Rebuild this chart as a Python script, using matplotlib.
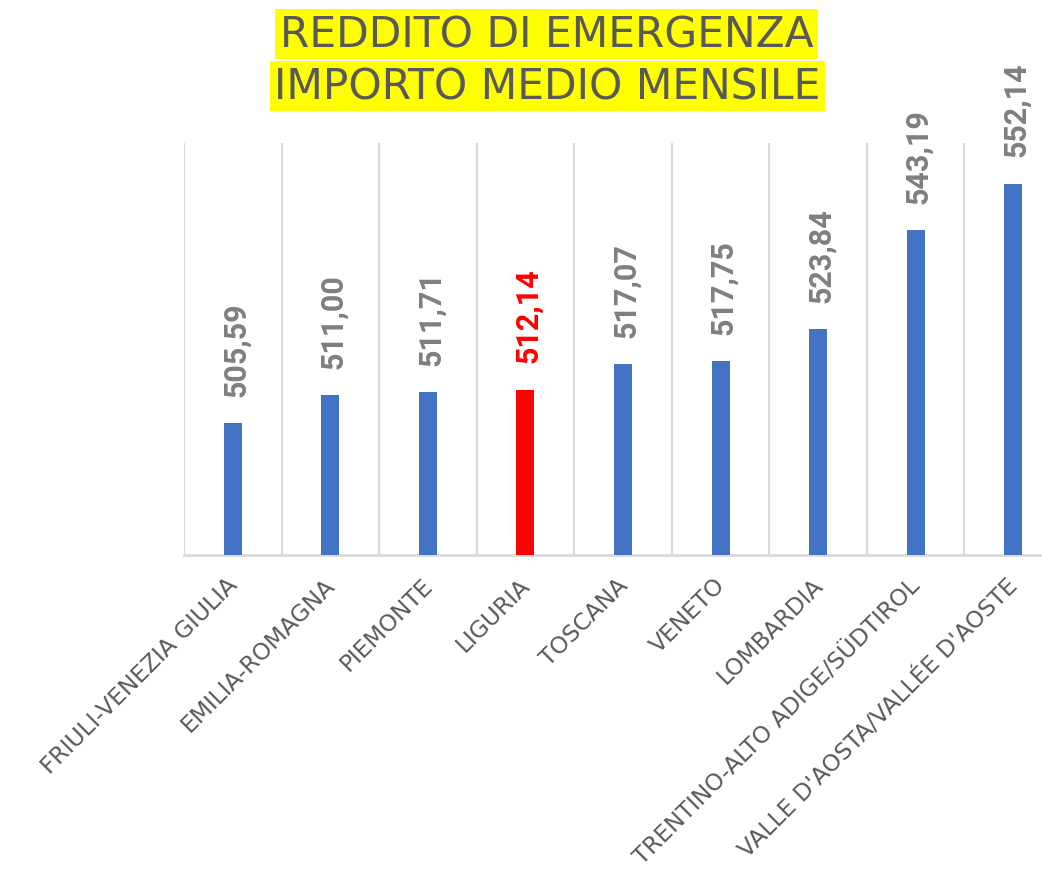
import matplotlib
matplotlib.use("Agg")
import matplotlib.pyplot as plt
import matplotlib.transforms as mtrans
import numpy as np

regioni = ["FRIULI-VENEZIA GIULIA", "EMILIA-ROMAGNA", "PIEMONTE", "LIGURIA",
           "TOSCANA", "VENETO", "LOMBARDIA", "TRENTINO-ALTO ADIGE/SÜDTIROL",
           "VALLE D'AOSTA/VALLÉE D'AOSTE"]
importi = [505.59, 511.00, 511.71, 512.14, 517.07, 517.75, 523.84, 543.19, 552.14]
evidenziata = "LIGURIA"

blu = "#4472C4"
rosso = "#FF0000"
grigio = "#595959"

fig = plt.figure(figsize=(10.42, 8.78), dpi=100)
ax = fig.add_axes([0.1766, 0.3667, 0.8426, 0.4692])

x = np.arange(len(regioni))
colori = [rosso if r == evidenziata else blu for r in regioni]
ax.bar(x, importi, width=0.185, color=colori, zorder=3)

ax.set_xlim(-0.5, len(regioni) - 0.5)
ax.set_ylim(480, 560)

# vertical grid between categories
for b in np.arange(-0.5, len(regioni), 1.0):
    ax.axvline(b, color="#d9d9d9", lw=1.5, zorder=1)

for s in ["top", "right", "left"]:
    ax.spines[s].set_visible(False)
ax.spines["bottom"].set_color("#d9d9d9")
ax.spines["bottom"].set_linewidth(2)
ax.set_yticks([])
ax.tick_params(axis="x", length=0, pad=13)
ax.set_xticks(x)
ax.set_xticklabels(regioni, rotation=45, ha="right", va="top",
                   rotation_mode="anchor", fontsize=16.8, color=grigio,
                   family=["DejaVu Sans"])
# nudge labels a little to the left
shift = mtrans.ScaledTranslation(-7 / 100, 0, fig.dpi_scale_trans)
for lab in ax.get_xticklabels():
    lab.set_transform(lab.get_transform() + shift)

for xi, v, r in zip(x, importi, regioni):
    c = rosso if r == evidenziata else "#7f7f7f"
    ax.annotate(f"{v:.2f}".replace(".", ","), (xi, v), xytext=(2, 19.5),
                textcoords="offset points", rotation=90, ha="center", va="bottom",
                fontsize=22, fontweight="bold", color=c,
                family=["Roboto", "DejaVu Sans"])

fig.text(0.5245, 1 - 35 / 878, "REDDITO DI EMERGENZA", ha="center", va="center",
         fontsize=30.5, color=grigio, family=["DejaVu Sans"],
         bbox=dict(boxstyle="square,pad=0.1", fc="#FFFF00", ec="none"))
fig.text(0.5255, 1 - 87 / 878, "IMPORTO MEDIO MENSILE", ha="center", va="center",
         fontsize=30.5, color=grigio, family=["DejaVu Sans"],
         bbox=dict(boxstyle="square,pad=0.1", fc="#FFFF00", ec="none"))

fig.savefig("out.png", dpi=100)
